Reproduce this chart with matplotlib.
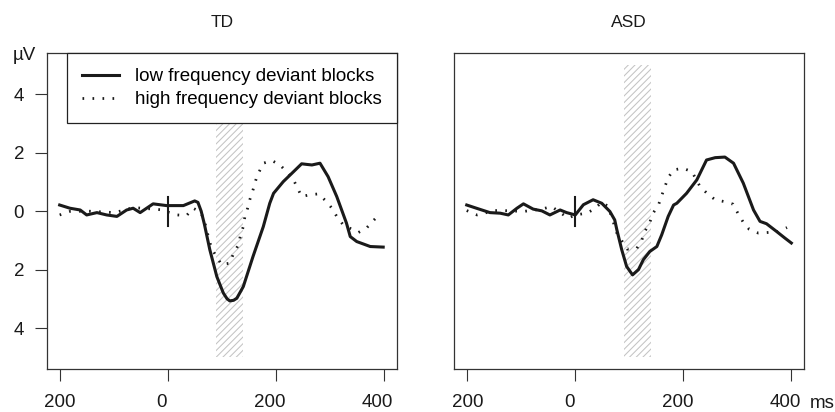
import matplotlib
matplotlib.use('Agg')
import matplotlib.pyplot as plt
from matplotlib.patches import Rectangle
from matplotlib.transforms import ScaledTranslation

plt.rcParams['font.family'] = ['Liberation Sans', 'DejaVu Sans']
plt.rcParams['hatch.linewidth'] = 0.75

# ---------------- data ----------------
panel_titles = ['TD', 'ASD']
series_labels = ['low frequency deviant blocks', 'high frequency deviant blocks']
x_ticks = [-200, 0, 200, 400]
x_tick_labels = ['200', '0', '200', '400']
y_ticks = [4, 2, 0, -2, -4]
y_tick_labels = ['4', '2', '0', '2', '4']
window_ms = [90, 140]
window_uv = [-5, 5]
marker_uv = [-0.5, 0.5]

td_low_x = [-200, -181, -162, -150, -131, -113, -94, -76, -64, -51, -27, -2, 29, 50, 56, 62,
            68, 78, 91, 103, 110, 115, 122, 128, 140, 158, 177, 189, 196, 214, 233, 248,
            257, 267, 282, 297, 313, 331, 338, 350, 375, 399]
td_low_y = [0.21, 0.10, 0.04, -0.13, -0.05, -0.13, -0.18, 0.04, 0.10, -0.05, 0.25, 0.19, 0.19, 0.35, 0.30, 0.0,
            -0.45, -1.32, -2.24, -2.80, -3.00, -3.07, -3.05, -2.98, -2.58, -1.55, -0.53, 0.27, 0.61, 1.01, 1.35, 1.62,
            1.60, 1.58, 1.64, 1.18, 0.50, -0.41, -0.87, -1.04, -1.21, -1.23]

td_high_x = [-200, -181, -147, -98, -64, -46, -14, 18, 35, 47, 61, 68, 72, 81, 91, 100, 108, 115, 122,
             128, 131, 135, 140, 143, 148, 152, 158, 165, 177, 193, 208, 220, 233, 248, 263, 279,
             294, 304, 313, 325, 353, 368, 381, 393]
td_high_y = [-0.13, -0.01, 0.00, -0.05, 0.12, 0.10, 0.05, -0.13, -0.15, 0.10, -0.03, -0.33, -0.64, -1.27, -1.57, -1.84, -1.80, -1.78, -1.44,
             -1.25, -1.15, -0.81, -0.53, -0.18, 0.10, 0.39, 0.73, 1.18, 1.64, 1.73, 1.58, 1.35, 1.07, 0.50, 0.56, 0.59,
             0.33, 0.10, -0.18, -0.47, -0.73, -0.58, -0.32, -0.09]

asd_low_x = [-201, -183, -158, -139, -124, -108, -96, -78, -62, -47, -28, -16, 0, 15, 33, 49, 64, 73,
             77, 86, 95, 106, 117, 126, 138, 151, 160, 172, 182, 188, 206, 225, 243, 259, 277, 293,
             311, 330, 342, 354, 373, 388, 400]
asd_low_y = [0.21, 0.10, -0.05, -0.07, -0.13, 0.10, 0.25, 0.07, 0.01, -0.13, 0.04, -0.05, -0.13, 0.22, 0.39, 0.27, -0.01, -0.30,
             -0.64, -1.32, -1.89, -2.18, -2.00, -1.66, -1.38, -1.21, -0.81, -0.18, 0.21, 0.27, 0.61, 1.07, 1.75, 1.83, 1.85, 1.64,
             0.96, 0.04, -0.35, -0.43, -0.70, -0.92, -1.09]

asd_high_x = [-201, -182, -149, -134, -96, -62, -44, -13, 0, 21, 36, 49, 61, 77, 96, 114, 123, 128, 138,
              144, 154, 160, 166, 172, 182, 199, 216, 231, 245, 259, 275, 292, 301, 311, 322, 339, 356,
              376, 392]
asd_high_y = [0.02, -0.13, 0.02, 0.02, -0.01, 0.07, 0.16, -0.24, -0.13, -0.07, 0.08, 0.31, 0.16, -0.75, -1.30, -1.27, -1.00, -0.72, -0.38,
              -0.07, 0.21, 0.53, 0.84, 1.15, 1.41, 1.47, 1.35, 0.84, 0.59, 0.39, 0.33, 0.24, -0.07, -0.38, -0.62, -0.75, -0.73,
              -0.70, -0.56]

low_series = [(td_low_x, td_low_y), (asd_low_x, asd_low_y)]
high_series = [(td_high_x, td_high_y), (asd_high_x, asd_high_y)]

# ---------------- figure ----------------
W, H = 835, 412
fig = plt.figure(figsize=(W / 100, H / 100), dpi=100)
ax_rects = [[46.7 / W, 1 - 369 / H, 350 / W, (369 - 53.3) / H],
            [454.3 / W, 1 - 369 / H, 350 / W, (369 - 53.3) / H]]

line_col = '#1a1a1a'
dot_style = (0, (0.6, 3.0))
FS = 13.5
label_shift_px = [0, -6, -6, -6]   # visible label offsets (the original drops minus signs)

axes = []
for i, rect in enumerate(ax_rects):
    ax = fig.add_axes(rect)
    axes.append(ax)
    ax.add_patch(Rectangle((window_ms[0], window_uv[0]), window_ms[1] - window_ms[0],
                           window_uv[1] - window_uv[0], facecolor='none', edgecolor='#c4c4c4',
                           hatch='/////', linewidth=0, zorder=1))
    lx, ly = low_series[i]
    hx, hy = high_series[i]
    l1, = ax.plot(lx, ly, color=line_col, lw=2.2, solid_joinstyle='round', zorder=3)
    l2, = ax.plot(hx, hy, color=line_col, lw=2.0, linestyle=dot_style, dash_capstyle='butt', zorder=3)
    ax.plot([0, 0], marker_uv, color=line_col, lw=1.5, zorder=4)
    ax.set_xlim(-224, 424)
    ax.set_ylim(-5.4, 5.4)
    ax.set_xticks(x_ticks)
    ax.set_xticklabels(x_tick_labels)
    ax.tick_params(axis='both', direction='out', length=8.6, width=0.8, color='#333333',
                   labelsize=FS, labelcolor='#1a1a1a')
    ax.tick_params(axis='x', pad=9.7)
    ax.tick_params(axis='y', pad=7.7)
    for lab, dx in zip(ax.get_xticklabels(), label_shift_px):
        lab.set_transform(lab.get_transform() + ScaledTranslation(dx / 100, 0, fig.dpi_scale_trans))
    for sp in ax.spines.values():
        sp.set_color('#333333')
        sp.set_linewidth(0.9)
    if i == 0:
        ax.set_yticks(y_ticks)
        ax.set_yticklabels(y_tick_labels)
        leg = ax.legend([l1, l2], series_labels, loc='upper right', bbox_to_anchor=(1, 1),
                        borderaxespad=0, frameon=True, fancybox=False, edgecolor='#222222',
                        framealpha=1, fontsize=FS, handlelength=2.0, handletextpad=0.85,
                        borderpad=0.8, labelspacing=0.3)
        leg.get_frame().set_linewidth(0.9)
        leg.set_zorder(10)
    else:
        ax.set_yticks([])
    cx = rect[0] + rect[2] / 2
    fig.text(cx, 1 - 27 / H, panel_titles[i], ha='center', va='baseline', fontsize=12.5, color='#1a1a1a')

fig.text(24.3 / W, 1 - 60 / H, 'µV', ha='center', va='baseline', fontsize=FS, color='#1a1a1a')
fig.text(810.0 / W, 1 - 408 / H, 'ms', ha='left', va='baseline', fontsize=FS, color='#1a1a1a')

fig.savefig('out.png', dpi=100)
